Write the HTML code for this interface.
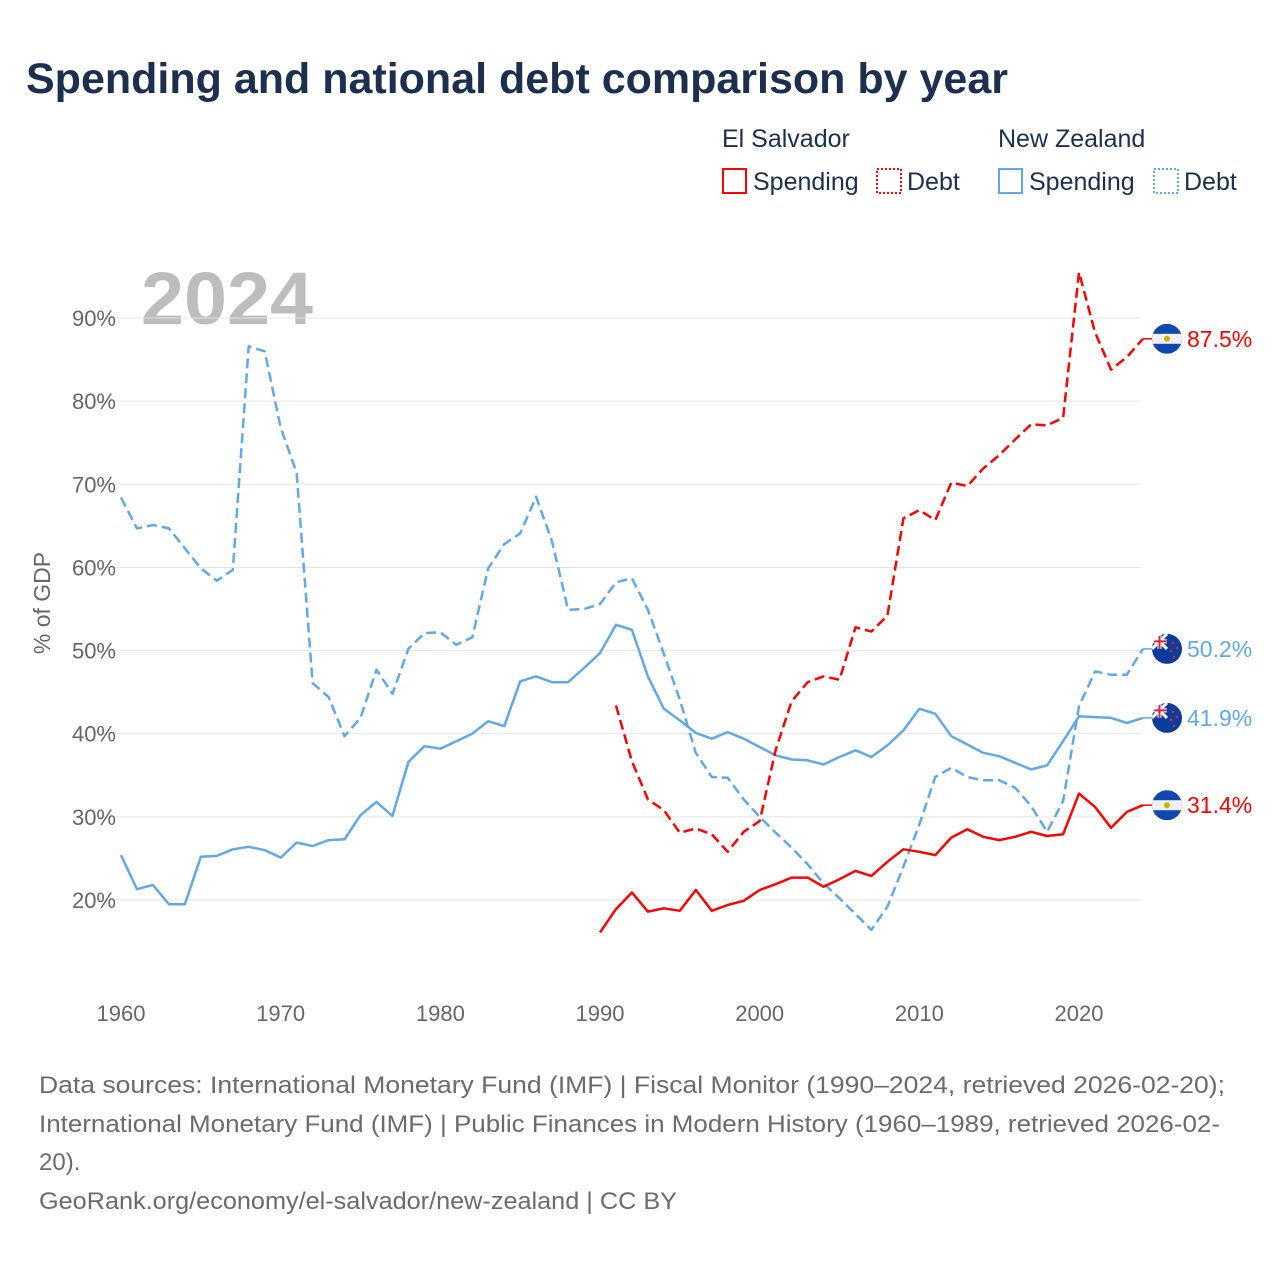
<!DOCTYPE html>
<html><head><meta charset="utf-8">
<style>
html,body{margin:0;padding:0;background:#fff;}
body{width:1280px;height:1280px;position:relative;overflow:hidden;font-family:"Liberation Sans",sans-serif;}
svg text{font-family:"Liberation Sans",sans-serif;}
</style></head>
<body>
<svg id="chart" width="1280" height="1280" viewBox="0 0 1280 1280" xmlns="http://www.w3.org/2000/svg">
<text x="26" y="93" font-size="43" font-weight="bold" fill="#1c2f4f">Spending and national debt comparison by year</text>
<g font-size="25" fill="#1c2f4f">
<text x="722" y="147">El Salvador</text>
<text x="998" y="147">New Zealand</text>
<g><rect x="723" y="169" width="23" height="24" fill="none" stroke="#ff0000" stroke-width="2"/><text x="753" y="190">Spending</text></g>
<g><rect x="877" y="169" width="24" height="24" fill="none" stroke="#ff0000" stroke-width="2" stroke-dasharray="2,2"/><text x="907" y="190">Debt</text></g>
<g><rect x="999" y="169" width="23" height="24" fill="none" stroke="#62a8e8" stroke-width="2"/><text x="1029" y="190">Spending</text></g>
<g><rect x="1154" y="169" width="24" height="24" fill="none" stroke="#62a8e8" stroke-width="2" stroke-dasharray="2,2"/><text x="1184" y="190">Debt</text></g>
</g>
<text x="141" y="324" font-size="74" font-weight="bold" fill="#bdbdbd" textLength="172" lengthAdjust="spacingAndGlyphs">2024</text>
<text transform="translate(50,603) rotate(-90)" text-anchor="middle" font-size="23" fill="#666">% of GDP</text>
<g id="grid"></g>
<g id="series"></g>
<g id="ends"></g>
<g font-size="24" fill="#6b6b6b">
<text x="39" y="1093" textLength="1186" lengthAdjust="spacingAndGlyphs">Data sources: International Monetary Fund (IMF) | Fiscal Monitor (1990–2024, retrieved 2026-02-20);</text>
<text x="39" y="1132" textLength="1181" lengthAdjust="spacingAndGlyphs">International Monetary Fund (IMF) | Public Finances in Modern History (1960–1989, retrieved 2026-02-</text>
<text x="39" y="1170">20).</text>
<text x="39" y="1209" textLength="638" lengthAdjust="spacingAndGlyphs">GeoRank.org/economy/el-salvador/new-zealand | CC BY</text>
</g>
</svg>
<script>
const yTicks = [20,30,40,50,60,70,80,90];
const xTicks = [1960,1970,1980,1990,2000,2010,2020];
const nzYears0 = 1960;
const nzDebt = [68.4,64.7,65.1,64.7,62.3,59.9,58.4,59.7,86.6,86.0,76.8,71.4,46.1,44.4,39.7,41.9,47.7,44.8,50.2,52.1,52.2,50.7,51.6,59.9,62.8,64.1,68.5,63.1,54.9,55.0,55.6,58.2,58.7,54.9,49.6,44.1,37.7,34.8,34.7,32.1,30.0,28.1,26.3,24.3,22.0,20.2,18.3,16.4,19.2,24.0,29.1,34.8,35.9,34.8,34.4,34.4,33.5,31.3,28.2,31.9,43.3,47.5,47.1,47.1,50.2];
const nzSpending = [25.4,21.3,21.8,19.5,19.5,25.2,25.3,26.1,26.4,26.0,25.1,26.9,26.5,27.2,27.3,30.2,31.8,30.1,36.6,38.5,38.2,39.1,40.0,41.5,40.9,46.3,46.9,46.2,46.2,47.9,49.7,53.1,52.5,46.9,43.0,41.6,40.1,39.4,40.2,39.4,38.4,37.4,36.9,36.8,36.3,37.2,38.0,37.2,38.6,40.4,43.0,42.4,39.7,38.7,37.7,37.3,36.5,35.7,36.2,39.1,42.1,42.0,41.9,41.3,41.9];
const esSpendYear0 = 1990;
const esSpending = [16.1,18.9,20.9,18.6,19.0,18.7,21.2,18.7,19.4,19.9,21.2,21.9,22.7,22.7,21.6,22.5,23.5,22.9,24.6,26.1,25.8,25.4,27.5,28.5,27.6,27.2,27.6,28.2,27.7,27.9,32.8,31.2,28.7,30.6,31.4];
const esDebtYear0 = 1991;
const esDebt = [43.4,36.7,32.1,30.8,28.1,28.6,27.9,25.8,28.2,29.5,38.0,43.9,46.2,46.9,46.5,52.8,52.3,54.2,65.9,66.9,65.7,70.2,69.8,71.9,73.5,75.4,77.2,77.1,78.0,95.5,88.3,83.8,85.3,87.5];

const NS='http://www.w3.org/2000/svg';
const xs = yr => 121 + (yr-1960)*15.967;
const ys = v => 900 - (v-20)*8.314;
function mk(tag, attrs, parent){const e=document.createElementNS(NS,tag);for(const k in attrs)e.setAttribute(k,attrs[k]);parent.appendChild(e);return e;}
const grid=document.getElementById('grid');
yTicks.forEach(t=>{
  const l=mk('line',{x1:100,x2:1141,y1:ys(t),y2:ys(t),stroke:'#e4e4e4','stroke-width':1},grid);
  
  
  const tx=mk('text',{x:116,y:ys(t)+8,'text-anchor':'end','font-size':22,fill:'#666'},grid);
  tx.textContent=t+'%';
  
  
});
xTicks.forEach(t=>{
  const tx=mk('text',{x:xs(t),y:1021,'text-anchor':'middle','font-size':22,fill:'#666'},grid);
  tx.textContent=t;
  
  
});
const ser=document.getElementById('series');
function line(vals, y0, color, dash, name){
  const d=vals.map((v,i)=>(i?'L':'M')+xs(y0+i).toFixed(1)+','+ys(v).toFixed(1)).join(' ');
  const p=mk('path',{d:d,fill:'none',stroke:color,'stroke-width':2.5,'stroke-linejoin':'round'},ser);
  if(dash)p.setAttribute('stroke-dasharray',dash);
  
  
}
line(nzDebt,nzYears0,'#62a8e8','10,5','nz-debt-line');
line(nzSpending,nzYears0,'#62a8e8',null,'nz-spending-line');
line(esDebt,esDebtYear0,'#ff0000','10,5','es-debt-line');
line(esSpending,esSpendYear0,'#ff0000',null,'es-spending-line');

const ends=document.getElementById('ends');
function endMark(v,color,flag,name){
  const y=ys(v), x0=xs(2024);
  mk('line',{x1:x0,x2:1152,y1:y,y2:y,stroke:color,'stroke-width':1.5},ends);
  const g=mk('g',{},ends);
  
  
  const cx=1167, r=15;
  const cid='c'+name;
  const cp=mk('clipPath',{id:cid},g); mk('circle',{cx:cx,cy:y,r:r},cp);
  const gg=mk('g',{'clip-path':'url(#'+cid+')'},g);
  if(flag==='es'){
    mk('rect',{x:cx-r,y:y-r,width:2*r,height:2*r,fill:'#0f47af'},gg);
    mk('rect',{x:cx-r,y:y-5,width:2*r,height:10,fill:'#f0f0f0'},gg);
    mk('circle',{cx:cx,cy:y,r:3,fill:'#c8b400'},gg);
  } else {
    mk('rect',{x:cx-r,y:y-r,width:2*r,height:2*r,fill:'#0a3c9c'},gg);
    mk('path',{d:`M${cx-r},${y-r} L${cx},${y} M${cx},${y-r} L${cx-r},${y}`,stroke:'#fff','stroke-width':3},gg);
    mk('path',{d:`M${cx-r/2},${y-r} V${y} M${cx-r},${y-r/2} H${cx}`,stroke:'#fff','stroke-width':4},gg);
    mk('path',{d:`M${cx-r/2},${y-r} V${y} M${cx-r},${y-r/2} H${cx}`,stroke:'#e0203a','stroke-width':2},gg);
    [[6,-6],[10,-1],[4,2],[7,8]].forEach(s=>mk('circle',{cx:cx+s[0],cy:y+s[1],r:1.3,fill:'#e0203a'},gg));
  }
  const t=mk('text',{x:1187,y:y+8,'font-size':23,fill:color},ends);
  t.textContent=v.toFixed(1)+'%';
  
  
}
endMark(esDebt[esDebt.length-1],'#ff0000','es','es-debt');
endMark(nzDebt[nzDebt.length-1],'#62a8e8','nz','nz-debt');
endMark(nzSpending[nzSpending.length-1],'#62a8e8','nz','nz-spending');
endMark(esSpending[esSpending.length-1],'#ff0000','es','es-spending');
</script>
</body></html>
